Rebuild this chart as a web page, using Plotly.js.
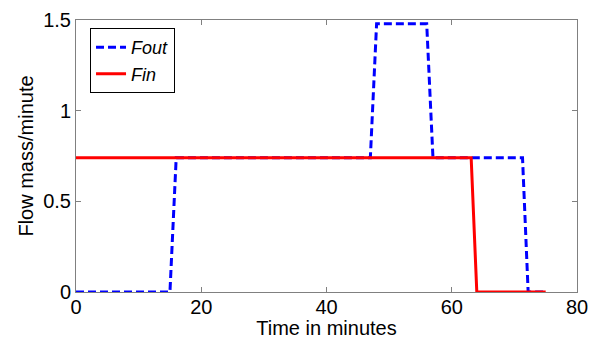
<!DOCTYPE html>
<html>
<head>
<meta charset="utf-8">
<script src="https://cdn.plot.ly/plotly-3.0.1.min.js"></script>
<style>html,body{margin:0;padding:0;background:#fff;}#chart{width:597px;height:339px;}</style>
</head>
<body>
<div id="chart"></div>
<script>
const foutTime = [0, 15, 16, 47, 48, 56, 57, 71.3, 72.2, 75];
const foutValues = [0, 0, 0.74, 0.74, 1.48, 1.48, 0.74, 0.74, 0, 0];
const finTime = [0, 63.1, 64, 75];
const finValues = [0.74, 0.74, 0, 0];
const xTicks = [0, 20, 40, 60, 80];
const yTicks = [0, 0.5, 1, 1.5];

const FONT = 'Liberation Sans, Arial, sans-serif';

const traces = [
  {x: foutTime, y: foutValues, name: '<i>Fout</i>', mode: 'lines',
   line: {color: '#0000ff', width: 3, dash: '8px,4px'}},
  {x: finTime, y: finValues, name: '<i>Fin</i>', mode: 'lines',
   line: {color: '#ff0000', width: 3}}
];

const axisCommon = {
  showgrid: false, zeroline: false, showline: true, mirror: 'ticks',
  linecolor: '#808080', linewidth: 1, ticks: 'inside', ticklen: 5,
  tickcolor: '#808080', tickfont: {family: FONT, size: 20, color: '#000'}
};

const layout = {
  width: 597, height: 339,
  margin: {l: 76, r: 20, t: 20, b: 47},
  paper_bgcolor: '#fff', plot_bgcolor: '#fff',
  showlegend: true,
  legend: {x: 0.028, y: 0.97, xanchor: 'left', yanchor: 'top',
    bordercolor: '#000', borderwidth: 1, bgcolor: '#fff',
    font: {family: FONT, size: 18, color: '#000'},
    tracegroupgap: 0, itemwidth: 30},
  xaxis: Object.assign({}, axisCommon, {range: [0, 80], tickvals: xTicks, automargin: false,
    ticklabelstandoff: -3,
    title: {text: 'Time in minutes', standoff: 3, font: {family: FONT, size: 20, color: '#000'}}}),
  yaxis: Object.assign({}, axisCommon, {range: [0, 1.5], tickvals: yTicks, automargin: false,
    title: {text: 'Flow mass/minute', standoff: 4, font: {family: FONT, size: 20, color: '#000'}}})
};

Plotly.newPlot('chart', traces, layout, {displayModeBar: false, staticPlot: true});
</script>
</body>
</html>
